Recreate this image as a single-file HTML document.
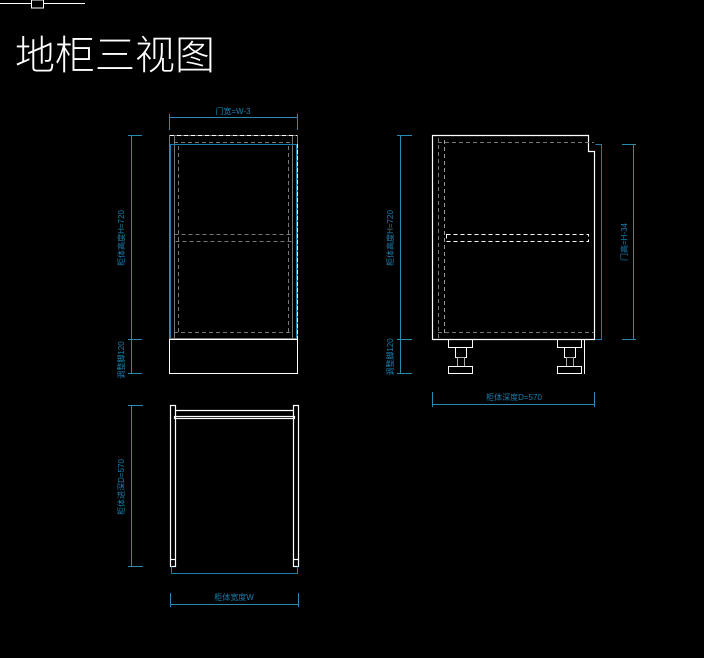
<!DOCTYPE html>
<html><head><meta charset="utf-8"><style>
html,body{margin:0;padding:0;background:#000;width:704px;height:658px;overflow:hidden}
svg{display:block}
text{font-family:"Liberation Sans","Noto Sans CJK SC",sans-serif}
</style></head><body>
<svg width="704" height="658" viewBox="0 0 704 658" xmlns="http://www.w3.org/2000/svg">
<rect width="704" height="658" fill="#000"/>
<!-- top-left marker -->
<line x1="0" y1="3.5" x2="85" y2="3.5" stroke="#fff" stroke-width="1"/>
<rect x="31.5" y="0" width="12" height="8" fill="#000" stroke="#fff" stroke-width="1"/>
<text x="15" y="69" font-size="40" fill="#fff" font-family="'Noto Serif CJK SC','Noto Sans CJK SC',serif" font-weight="300">地柜三视图</text>

<g fill="none" stroke-width="1">
<!-- FRONT VIEW -->
<rect x="169.5" y="135.5" width="128" height="203" stroke="#777"/>
<rect x="169.5" y="339.5" width="128" height="34" stroke="#fff"/>
<line x1="174.5" y1="135.5" x2="174.5" y2="338" stroke="#777"/>
<line x1="292.5" y1="135.5" x2="292.5" y2="338" stroke="#777"/>
<line x1="170" y1="135.5" x2="297" y2="135.5" stroke="#fff" stroke-dasharray="4,3"/>
<line x1="174" y1="142.5" x2="293" y2="142.5" stroke="#777" stroke-dasharray="4,3"/>
<line x1="170" y1="144.5" x2="297" y2="144.5" stroke="#1a7fb0"/>
<line x1="170.5" y1="145" x2="170.5" y2="338" stroke="#1a7fb0"/>
<line x1="297.5" y1="144" x2="297.5" y2="339" stroke="#fff" stroke-dasharray="4,2"/>
<line x1="296.5" y1="144" x2="296.5" y2="339" stroke="#1a7fb0"/>
<line x1="178.5" y1="146" x2="178.5" y2="332" stroke="#777" stroke-dasharray="4,3"/>
<line x1="288.5" y1="146" x2="288.5" y2="332" stroke="#777" stroke-dasharray="4,3"/>
<rect x="174.5" y="234.5" width="118" height="7" stroke="#777" stroke-dasharray="4,3"/>
<line x1="174" y1="332.5" x2="293" y2="332.5" stroke="#777" stroke-dasharray="4,3"/>
<line x1="170" y1="339.5" x2="297" y2="339.5" stroke="#fff" stroke-dasharray="4,3"/>
<!-- front dims -->
<g stroke="#2a8ab0">
<line x1="131.5" y1="135" x2="131.5" y2="374"/>
<line x1="128" y1="135.5" x2="142" y2="135.5"/>
<line x1="128" y1="339.5" x2="142" y2="339.5"/>
<line x1="128" y1="373.5" x2="142" y2="373.5"/>
<line x1="169" y1="117.5" x2="298" y2="117.5"/>
<line x1="169.5" y1="114" x2="169.5" y2="130"/>
<line x1="297.5" y1="114" x2="297.5" y2="130"/>
<!-- SIDE dims -->
<line x1="400.5" y1="135" x2="400.5" y2="374"/>
<line x1="397" y1="135.5" x2="412" y2="135.5"/>
<line x1="397" y1="339.5" x2="412" y2="339.5"/>
<line x1="397" y1="373.5" x2="412" y2="373.5"/>
<line x1="633.5" y1="144" x2="633.5" y2="340"/>
<line x1="622" y1="144.5" x2="636" y2="144.5"/>
<line x1="622" y1="339.5" x2="636" y2="339.5"/>
<line x1="432" y1="404.5" x2="595" y2="404.5"/>
<line x1="432.5" y1="392" x2="432.5" y2="407"/>
<line x1="594.5" y1="392" x2="594.5" y2="407"/>
<!-- TOP dims -->
<line x1="131.5" y1="405" x2="131.5" y2="567"/>
<line x1="128" y1="405.5" x2="143" y2="405.5"/>
<line x1="128" y1="566.5" x2="143" y2="566.5"/>
<line x1="170" y1="604.5" x2="299" y2="604.5"/>
<line x1="170.5" y1="593" x2="170.5" y2="607"/>
<line x1="298.5" y1="593" x2="298.5" y2="607"/>
</g>

<!-- SIDE VIEW -->
<path d="M432.5 135.5 H588.5 V151.5 H594.5 V339.5 H432.5 Z" stroke="#fff" stroke-width="1.2"/>
<path d="M595.5 144.5 H601.5 V339.5 H595.5" stroke="#1a7fb0"/>
<line x1="438" y1="142.5" x2="594" y2="142.5" stroke="#777" stroke-dasharray="4,3"/>
<line x1="438" y1="332.5" x2="594" y2="332.5" stroke="#777" stroke-dasharray="4,3"/>
<line x1="438.5" y1="138" x2="438.5" y2="338" stroke="#777" stroke-dasharray="4,3"/>
<line x1="444.5" y1="140" x2="444.5" y2="336" stroke="#999" stroke-dasharray="4,3"/>
<rect x="446.5" y="234.5" width="142" height="7" stroke="#fff" stroke-dasharray="4,3"/>
<g stroke="#fff">
<rect x="448.5" y="339.5" width="24" height="8"/>
<rect x="455.5" y="347.5" width="11" height="10"/>
<rect x="457.5" y="357.5" width="7" height="9" stroke="#aaa"/>
<rect x="448.5" y="366.5" width="24" height="7"/>
<rect x="557.5" y="339.5" width="24" height="8"/>
<rect x="564.5" y="347.5" width="11" height="10"/>
<rect x="566.5" y="357.5" width="7" height="9" stroke="#aaa"/>
<rect x="557.5" y="366.5" width="24" height="7"/>
<line x1="584.5" y1="339" x2="584.5" y2="374"/>
</g>

<!-- TOP VIEW -->
<g stroke="#fff" stroke-width="1.2">
<rect x="170.5" y="405.5" width="5" height="161"/>
<rect x="293.5" y="405.5" width="5" height="161"/>
<line x1="176" y1="410.5" x2="293" y2="410.5"/>
<rect x="174.5" y="416.5" width="120" height="2"/>
<line x1="170" y1="559.5" x2="176" y2="559.5"/>
<line x1="293" y1="559.5" x2="299" y2="559.5"/>
</g>
<path d="M171.5 566.5 V573.5 H297.5 V566.5" stroke="#1a7fb0"/>
</g>

<g fill="#1a7fb0" font-size="8">
<text x="233" y="114" text-anchor="middle">门宽=W-3</text>
<text x="514" y="400" text-anchor="middle">柜体深度D=570</text>
<text x="234" y="600" text-anchor="middle">柜体宽度W</text>
<text transform="translate(124,238) rotate(-90)" text-anchor="middle">柜体高度H=720</text>
<text transform="translate(124,360) rotate(-90)" text-anchor="middle">调整脚120</text>
<text transform="translate(393,238) rotate(-90)" text-anchor="middle">柜体高度H=720</text>
<text transform="translate(393,357) rotate(-90)" text-anchor="middle">调整脚120</text>
<text transform="translate(627,242) rotate(-90)" text-anchor="middle">门高=H-34</text>
<text transform="translate(124,487) rotate(-90)" text-anchor="middle">柜体进深D=570</text>
</g>
</svg>
</body></html>
